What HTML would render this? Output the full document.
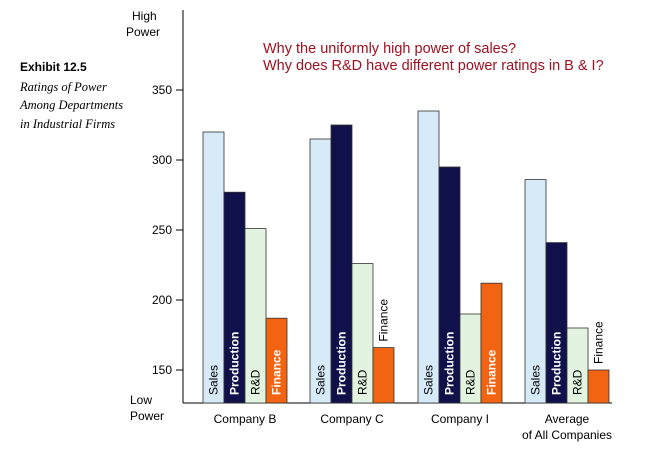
<!DOCTYPE html>
<html><head><meta charset="utf-8"><style>
body{margin:0;background:#fff;}
svg{display:block;font-family:"Liberation Sans",sans-serif;}
</style></head><body>
<svg id="chart" width="652" height="458" viewBox="0 0 652 458" xmlns="http://www.w3.org/2000/svg">
<g>
<text x="20" y="71" font-size="12" font-weight="bold">Exhibit 12.5</text>
<text x="20" y="91" font-size="12.5" font-style="italic" font-family="Liberation Serif,serif">Ratings of Power</text>
<text x="20" y="109" font-size="12.5" font-style="italic" font-family="Liberation Serif,serif">Among Departments</text>
<text x="20" y="128" font-size="12.5" font-style="italic" font-family="Liberation Serif,serif">in Industrial Firms</text>
</g>
<g fill="#a01020" font-size="14.5">
<text x="263" y="53">Why the uniformly high power of sales?</text>
<text x="263" y="70">Why does R&amp;D have different power ratings in B &amp; I?</text>
</g>
<text x="132" y="20" font-size="12">High</text>
<text x="126" y="36" font-size="12">Power</text>
<text x="130" y="404" font-size="12">Low</text>
<text x="130" y="420" font-size="12">Power</text>
<line x1="183" y1="10" x2="183" y2="403" stroke="#000"/>
<line x1="183" y1="403" x2="612" y2="403" stroke="#000"/>
<g id="ticks"></g>
<g id="bars"></g>
</svg>
<script>
const categories=["Company B","Company C","Company I","Average"];
const catLines=[["Company B"],["Company C"],["Company I"],["Average","of All Companies"]];
const departments=["Sales","Production","R&D","Finance"];
const sales=[320,315,335,286];
const production=[277,325,295,241];
const rnd=[251,226,190,180];
const finance=[187,166,212,150];
const yTicks=[150,200,250,300,350];
const series=[sales,production,rnd,finance];
const colors=["#d6eaf8","#10104a","#e2f4e0","#f26312"];
const textColors=["#000","#fff","#000","#fff"];
const bold=[false,true,false,true];
const NS="http://www.w3.org/2000/svg";
function y(v){return 160+(300-v)*1.4;}
const base=403,barW=21,groupX0=203,groupStep=107.3;
function x(ci,si){return Math.round(groupX0+ci*groupStep)+si*barW;}
function mk(tag,attrs,parent){const e=document.createElementNS(NS,tag);for(const k in attrs)e.setAttribute(k,attrs[k]);parent.appendChild(e);return e;}
const tg=document.getElementById('ticks');
yTicks.forEach(t=>{
 const l=mk('line',{x1:176,x2:183,y1:y(t),y2:y(t),stroke:'#000'},tg);
 
 
 const tx=mk('text',{x:172,y:y(t)+4,'font-size':12,'text-anchor':'end'},tg);
 tx.textContent=t;
 
 
});
const bg=document.getElementById('bars');
categories.forEach((c,ci)=>{
 series.forEach((s,si)=>{
  const v=s[ci];const bx=x(ci,si);const by=y(v);
  const r=mk('rect',{x:bx,y:by,width:barW,height:base-by,fill:colors[si],stroke:'#333','stroke-width':0.8},bg);
  
  
  const label=departments[si];
  const tw=label.length*(bold[si]?7.4:6.8);
  let inside=(base-by)>tw+10;
  let ty=inside?base-8:by-6;
  const t=mk('text',{transform:`translate(${bx+barW/2+4},${ty}) rotate(-90)`,'font-size':12,fill:inside?textColors[si]:'#000','font-weight':(inside&&bold[si])?'bold':'normal'},bg);
  t.textContent=label;
  
  
 });
 const cx=x(ci,0)+barW*2;
 catLines[ci].forEach((ln,li)=>{
  const t=mk('text',{x:cx,y:423+li*16,'font-size':12,'text-anchor':'middle'},bg);
  t.textContent=ln;
  
  
 });
});
</script>
</body></html>
